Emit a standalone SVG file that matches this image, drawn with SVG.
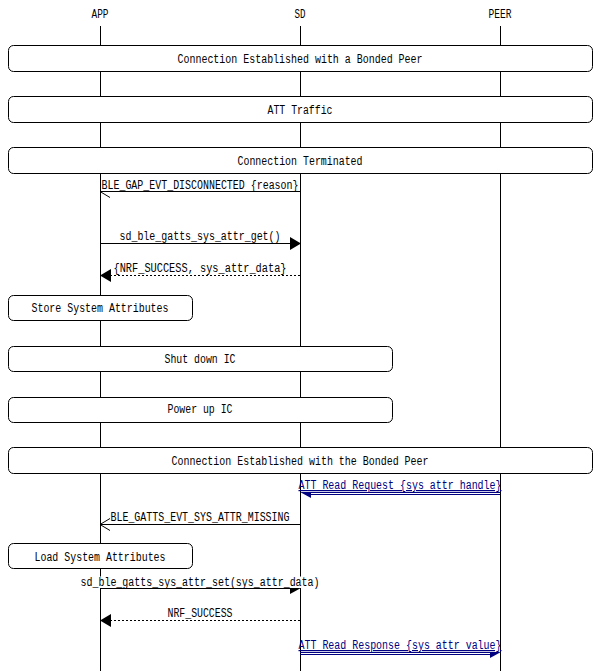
<svg xmlns="http://www.w3.org/2000/svg" width="600" height="671" viewBox="0 0 600 671">
<style>
text{font-family:"Liberation Mono","DejaVu Sans Mono",monospace;font-size:12px;fill:#000;}
.c{text-anchor:middle;}
.life{stroke:#000;stroke-width:1;}
.box{fill:#fff;stroke:#000;stroke-width:1;}
.ln{stroke:#000;stroke-width:1;fill:none;}
.dash{stroke:#000;stroke-width:1;fill:none;stroke-dasharray:2,2;}
.head{fill:#000;stroke:none;}
.bg{fill:#fff;stroke:none;}
.url{fill:#000080;text-decoration:underline;}
.uln{stroke:#000080;stroke-width:1;fill:none;}
.uhead{fill:#000080;stroke:none;}
</style>
<rect width="600" height="671" fill="#fff"/>
<g id="entities">
<g id="APP"><text class="c" x="100" y="18" textLength="17" lengthAdjust="spacingAndGlyphs">APP</text><line class="life" x1="100.5" y1="26" x2="100.5" y2="671"/></g>
<g id="SD"><text class="c" x="300" y="18" textLength="11" lengthAdjust="spacingAndGlyphs">SD</text><line class="life" x1="300.5" y1="26" x2="300.5" y2="671"/></g>
<g id="PEER"><text class="c" x="500" y="18" textLength="23" lengthAdjust="spacingAndGlyphs">PEER</text><line class="life" x1="500.5" y1="26" x2="500.5" y2="671"/></g>
</g>
<g id="boxes">
<g id="box1"><rect class="box" x="8.5" y="45.5" width="584" height="26" rx="5"/><text class="c" x="300" y="63" textLength="245" lengthAdjust="spacingAndGlyphs">Connection Established with a Bonded Peer</text></g>
<g id="box2"><rect class="box" x="8.5" y="96.5" width="584" height="26" rx="5"/><text class="c" x="300" y="114" textLength="65" lengthAdjust="spacingAndGlyphs">ATT Traffic</text></g>
<g id="box3"><rect class="box" x="8.5" y="147.5" width="584" height="26" rx="5"/><text class="c" x="300" y="165" textLength="125" lengthAdjust="spacingAndGlyphs">Connection Terminated</text></g>
<g id="box4"><rect class="box" x="8.5" y="295.5" width="184" height="25" rx="5"/><text class="c" x="100" y="312" textLength="137" lengthAdjust="spacingAndGlyphs">Store System Attributes</text></g>
<g id="box5"><rect class="box" x="8.5" y="346.5" width="384" height="25" rx="5"/><text class="c" x="200" y="363" textLength="71" lengthAdjust="spacingAndGlyphs">Shut down IC</text></g>
<g id="box6"><rect class="box" x="8.5" y="397.5" width="384" height="25" rx="5"/><text class="c" x="200" y="413" textLength="65" lengthAdjust="spacingAndGlyphs">Power up IC</text></g>
<g id="box7"><rect class="box" x="8.5" y="447.5" width="584" height="26" rx="5"/><text class="c" x="300" y="465" textLength="257" lengthAdjust="spacingAndGlyphs">Connection Established with the Bonded Peer</text></g>
<g id="box8"><rect class="box" x="8.5" y="543.5" width="184" height="25" rx="5"/><text class="c" x="100" y="561" textLength="131" lengthAdjust="spacingAndGlyphs">Load System Attributes</text></g>
</g>
<g id="connectors">
<g id="m1">
<line class="ln" x1="300" y1="191.5" x2="100" y2="191.5"/>
<line class="ln" x1="100" y1="191.5" x2="110" y2="197.5"/>
<rect class="bg" x="101" y="179" width="198" height="11.5"/>
<text class="c" x="200" y="189" textLength="197" lengthAdjust="spacingAndGlyphs">BLE_GAP_EVT_DISCONNECTED {reason}</text>
</g>
<g id="m2">
<line class="ln" x1="100" y1="243.5" x2="292" y2="243.5"/>
<polygon class="head" points="301,243.5 290,237 290,250"/>
<rect class="bg" x="119" y="230" width="162" height="12"/>
<text class="c" x="200" y="240" textLength="161" lengthAdjust="spacingAndGlyphs">sd_ble_gatts_sys_attr_get()</text>
</g>
<g id="m3">
<line class="dash" x1="300" y1="275.5" x2="108" y2="275.5"/>
<polygon class="head" points="100,275.5 111,269 111,282"/>
<rect class="bg" x="113" y="262" width="174" height="12"/>
<text class="c" x="200" y="272" textLength="173" lengthAdjust="spacingAndGlyphs">{NRF_SUCCESS, sys_attr_data}</text>
</g>
<g id="m4">
<line class="uln" x1="500" y1="492.5" x2="302" y2="492.5"/>
<line class="uln" x1="500" y1="494.5" x2="308" y2="494.5"/>
<polygon class="uhead" points="300,492 311,492 311,498"/>
<text class="c url" x="400" y="489" textLength="203" lengthAdjust="spacingAndGlyphs">ATT Read Request {sys_attr_handle}</text>
</g>
<g id="m5">
<line class="ln" x1="300" y1="524.5" x2="100" y2="524.5"/>
<line class="ln" x1="100" y1="524.5" x2="110" y2="518.5"/>
<line class="ln" x1="100" y1="524.5" x2="110" y2="530.5"/>
<rect class="bg" x="110" y="511" width="180" height="12"/>
<text class="c" x="200" y="521" textLength="179" lengthAdjust="spacingAndGlyphs">BLE_GATTS_EVT_SYS_ATTR_MISSING</text>
</g>
<g id="m6">
<line class="ln" x1="100" y1="588.5" x2="292" y2="588.5"/>
<polygon class="head" points="301,588 290,588 290,594"/>
<rect class="bg" x="80" y="576.5" width="240" height="11.5"/>
<text class="c" x="200" y="586" textLength="239" lengthAdjust="spacingAndGlyphs">sd_ble_gatts_sys_attr_set(sys_attr_data)</text>
</g>
<g id="m7">
<line class="dash" x1="300" y1="620.5" x2="108" y2="620.5"/>
<polygon class="head" points="100,620.5 111,614 111,627"/>
<rect class="bg" x="167" y="607" width="66" height="12"/>
<text class="c" x="200" y="617" textLength="65" lengthAdjust="spacingAndGlyphs">NRF_SUCCESS</text>
</g>
<g id="m8">
<line class="uln" x1="300" y1="652.5" x2="498" y2="652.5"/>
<line class="uln" x1="300" y1="654.5" x2="492" y2="654.5"/>
<polygon class="uhead" points="501,652 490,652 490,658"/>
<text class="c url" x="400" y="649" textLength="203" lengthAdjust="spacingAndGlyphs">ATT Read Response {sys_attr_value}</text>
</g>
</g>
</svg>
